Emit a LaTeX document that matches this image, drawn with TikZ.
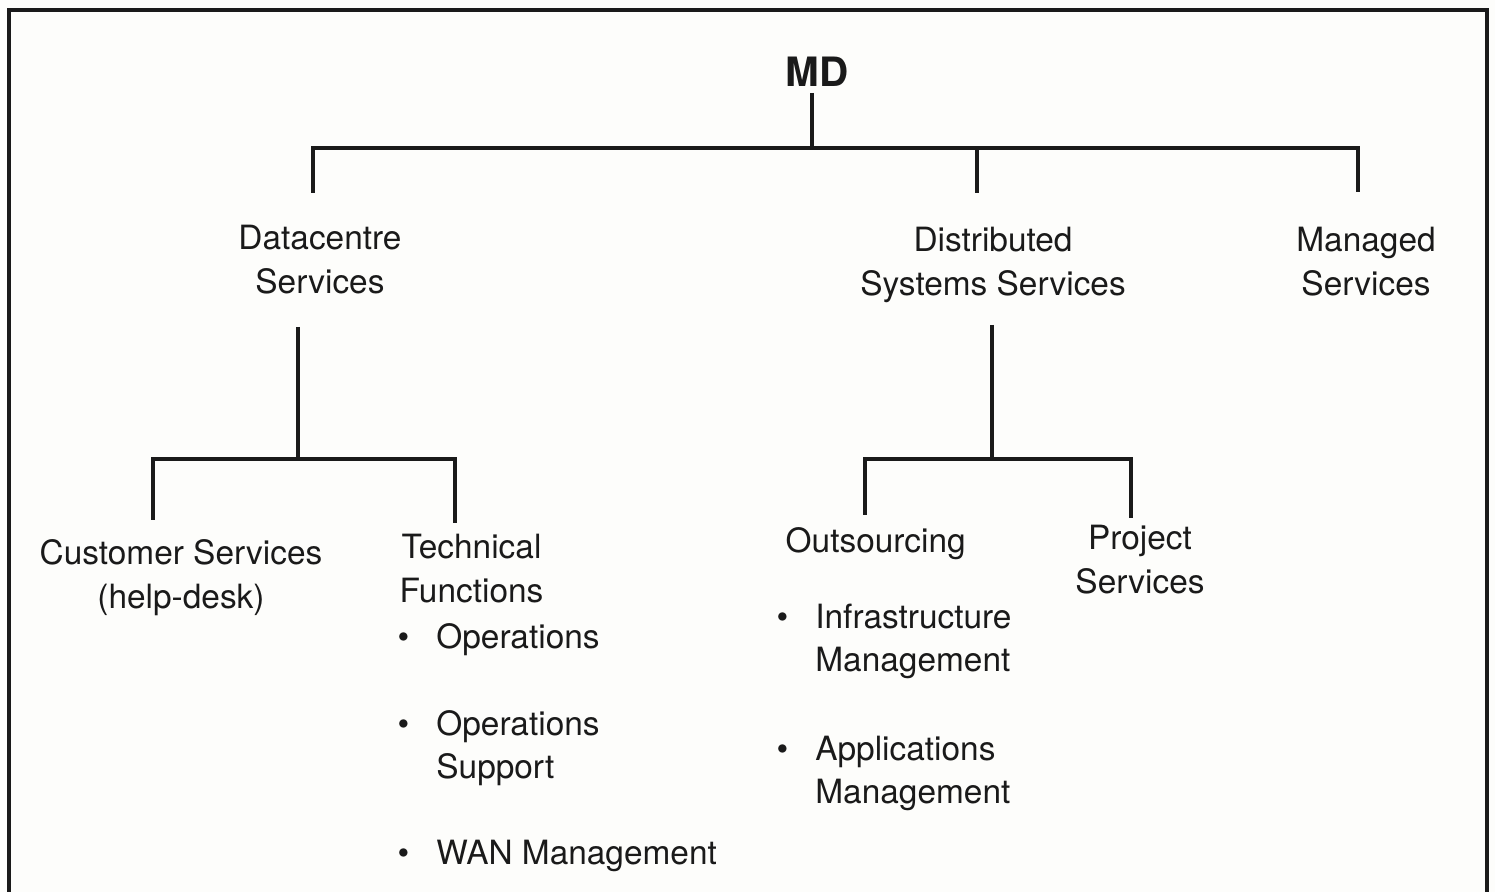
\documentclass[tikz,border=0pt]{standalone}
\usepackage{fontspec}
\setmainfont{TeX Gyre Heros}
\usetikzlibrary{positioning,calc}
\definecolor{ink}{HTML}{1A1A1A}
\definecolor{paper}{HTML}{FDFDFB}

\newcommand{\stack}[1]{\begin{tabular}[t]{@{}c@{}}#1\end{tabular}}
\newcommand{\bul}[1]{\begin{tabular}[t]{@{}p{11pt}@{}l@{}}\textbullet&#1\end{tabular}}

\begin{document}
\begin{tikzpicture}[
  x=0.01cm,y=-0.01cm,
  every node/.append style={text=ink, inner sep=0pt},
  unit/.style={font=\fontsize{9.5}{12.5}\selectfont, anchor=base},
  sub/.style={unit, anchor=base west},
  head/.style={font=\fontsize{11.5}{14}\selectfont\bfseries, anchor=base},
  link/.style={draw=ink, line width=1pt},
  frame/.style={draw=ink, line width=1.4pt, line join=miter},
]
\useasboundingbox (0,0) rectangle (1495,892);
\fill[paper] (0,0) rectangle (1495,892);
\draw[frame] (9,892) -- (9,10) -- (1487,10) -- (1487,892);
% top of the chart
\node[head] (md) at (817,87) {MD};
\node[unit] (dc) at (320,250) {\stack{Datacentre\\Services}};
\node[unit] (ds) at (993,252) {\stack{Distributed\\Systems Services}};
\node[unit] (mg) at (1366,252) {\stack{Managed\\Services}};
% datacentre branch
\node[unit] (cs) at (181,565) {\stack{Customer Services\\(help-desk)}};
\node[sub] (tf) at (399,559) {\stack{Technical\\Functions}};
\node[sub] (ops) at (397,649) {\bul{Operations}};
\node[sub] (opsup) at (397,735) {\bul{Operations\\&Support}};
\node[sub] (wan) at (397,864) {\bul{WAN Management}};
% distributed branch
\node[sub] (out) at (785,553) {Outsourcing};
\node[sub] (infra) at (776,628) {\bul{Infrastructure\\&Management}};
\node[sub] (apps) at (776,760) {\bul{Applications\\&Management}};
\node[unit] (ps) at (1140,550) {\stack{Project\\Services}};
% connector ends
\coordinate (mdfoot) at (812,93);
\coordinate (mdbus) at (812,148);
\coordinate (dctop) at (313,193);
\coordinate (dstop) at (977,193);
\coordinate (mgtop) at (1358,192);
\coordinate (dcfoot) at (298,327);
\coordinate (dcbus) at (298,459);
\coordinate (cstop) at (153,520);
\coordinate (tftop) at (455,523);
\coordinate (dsfoot) at (992,325);
\coordinate (dsbus) at (992,459);
\coordinate (outtop) at (865,515);
\coordinate (pstop) at (1131,518);
% tree lines
\draw[link] (mdfoot) -- (mdbus);
\draw[link] (dctop) -- (dctop |- mdbus) -- (mgtop |- mdbus) -- (mgtop);
\draw[link] (dstop |- mdbus) -- (dstop);
\draw[link] (dcfoot) -- (dcbus);
\draw[link] (cstop) -- (cstop |- dcbus) -- (tftop |- dcbus) -- (tftop);
\draw[link] (dsfoot) -- (dsbus);
\draw[link] (outtop) -- (outtop |- dsbus) -- (pstop |- dsbus) -- (pstop);
\end{tikzpicture}
\end{document}
